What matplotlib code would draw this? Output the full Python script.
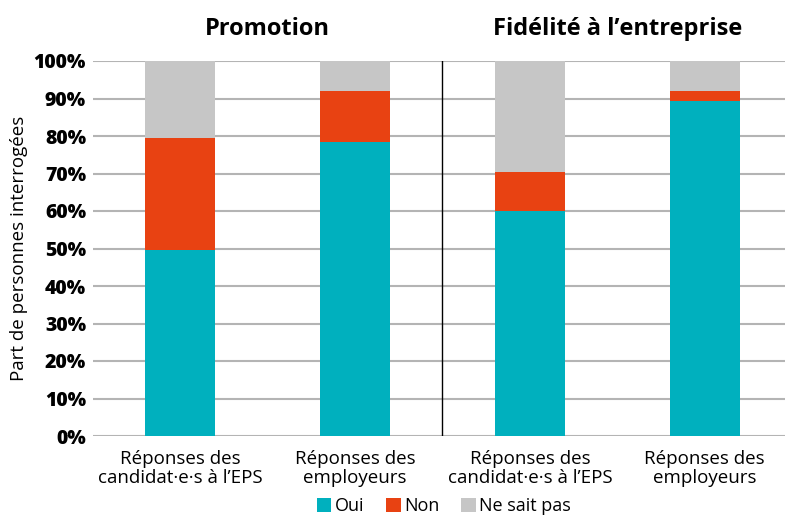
import matplotlib.pyplot as plt
import numpy as np

plt.rcParams['font.family'] = ['Open Sans', 'DejaVu Sans']

categories = ["Réponses des\ncandidat·e·s à l’EPS", "Réponses des\nemployeurs",
              "Réponses des\ncandidat·e·s à l’EPS", "Réponses des\nemployeurs"]
oui = [49.5, 78.5, 60.0, 89.3]
non = [30.0, 13.5, 10.5, 2.7]
nsp = [20.5, 8.0, 29.5, 8.0]
groups = ["Promotion", "Fidélité à l’entreprise"]

c_oui = "#00B0BE"
c_non = "#E84212"
c_nsp = "#C6C6C6"

fig = plt.figure(figsize=(7.85, 5.18), dpi=100)
ax = fig.add_axes([93 / 785, 1 - 436 / 518, 1 - 93 / 785, (436 - 61) / 518])

x = np.arange(len(categories))
w = 0.4
ax.bar(x, oui, w, color=c_oui, label="Oui", zorder=3)
ax.bar(x, non, w, bottom=oui, color=c_non, label="Non", zorder=3)
ax.bar(x, nsp, w, bottom=np.add(oui, non), color=c_nsp, label="Ne sait pas", zorder=3)

ax.set_xlim(-0.5, 3.46)
ax.set_ylim(0, 100)
ax.set_yticks(range(0, 101, 10))
ax.set_yticklabels([f"{v}%" for v in range(0, 101, 10)], fontweight="heavy", fontsize=14)
ax.yaxis.grid(True, color="#b4b4b4", linewidth=1.5, zorder=0)
ax.set_axisbelow(True)
ax.tick_params(axis="y", length=0, pad=5)
ax.tick_params(axis="x", length=0, pad=10)
ax.set_xticks(x)
ax.set_xticklabels(categories, fontsize=13.5, linespacing=1.05)
for s in ax.spines.values():
    s.set_visible(False)

ax.axvline(1.5, color="black", linewidth=1, zorder=4)

ax.set_ylabel("Part de personnes interrogées", fontsize=13.5, labelpad=4)

for i, g in enumerate(groups):
    ax.text(2 * i + 0.5, 108.5, g, ha="center", va="center",
            fontsize=17, fontweight="bold")

fig.legend(loc="center", bbox_to_anchor=(444 / 785, 1 - 506 / 518), ncol=3, frameon=False,
           fontsize=13, handlelength=0.8, handleheight=0.8, handletextpad=0.2,
           columnspacing=1.2, borderpad=0)

fig.savefig("out.png", dpi=100)
